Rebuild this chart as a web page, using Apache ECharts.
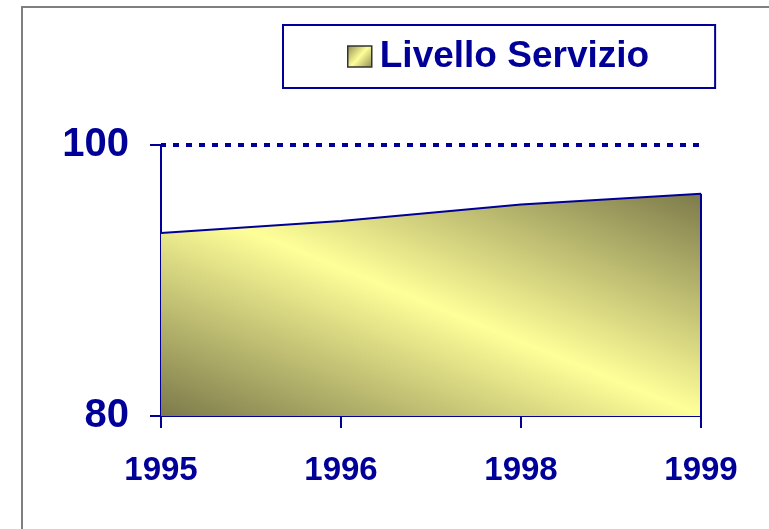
<!DOCTYPE html>
<html>
<head>
<meta charset="utf-8">
<script src="https://cdn.jsdelivr.net/npm/echarts@6/dist/echarts.min.js"></script>
<style>
  html, body { margin: 0; padding: 0; background: #fff; }
  #chart { width: 769px; height: 529px; }
</style>
</head>
<body>
<div id="chart"></div>
<script>
// data
var years = ['1995', '1996', '1998', '1999'];
var livello = [93.5, 94.4, 95.6, 96.4];
var yTicks = [80, 100];

var blue = '#000099';
var font = 'Liberation Sans, Arial, sans-serif';

// light band runs along the diagonal top-left -> bottom-right of the area
var areaFill = new echarts.graphic.LinearGradient(0.356, 1.355, 0.644, -0.355, [
  { offset: 0, color: '#7c7a4a' },
  { offset: 0.5, color: '#ffff99' },
  { offset: 1, color: '#7c7a4a' }
]);
var iconFill = new echarts.graphic.LinearGradient(0, 0, 1, 1, [
  { offset: 0, color: '#8a8850' },
  { offset: 0.5, color: '#ffff99' },
  { offset: 1, color: '#8a8850' }
]);

var chart = echarts.init(document.getElementById('chart'));
chart.setOption({
  animation: false,
  backgroundColor: '#fff',
  graphic: [{
    type: 'rect',
    shape: { x: 22, y: 7, width: 900, height: 700 },
    style: { fill: 'none', stroke: '#7f7f7f', lineWidth: 2 },
    silent: true
  }],
  legend: {
    left: 283,
    top: 25,
    padding: [13, 66, 13, 64],
    borderColor: blue,
    borderWidth: 2,
    itemWidth: 24,
    itemHeight: 21,
    icon: 'rect',
    textStyle: { color: blue, fontSize: 37, fontWeight: 'bold', fontFamily: font, padding: [0, 0, 0, 3] },
    data: [{
      name: 'Livello Servizio',
      itemStyle: { color: iconFill, borderColor: '#333', borderWidth: 1.5 }
    }]
  },
  grid: { left: 161, right: 68, top: 145, bottom: 113 },
  xAxis: {
    type: 'category',
    data: years,
    boundaryGap: false,
    axisLine: { show: true, lineStyle: { color: blue, width: 2 } },
    axisTick: { show: true, length: 12, lineStyle: { color: blue, width: 2 } },
    axisLabel: { color: blue, fontSize: 33, fontWeight: 'bold', fontFamily: font, margin: 38 },
    splitLine: { show: false }
  },
  yAxis: {
    type: 'value',
    min: yTicks[0],
    max: yTicks[1],
    interval: yTicks[1] - yTicks[0],
    axisLine: { show: true, lineStyle: { color: blue, width: 2 } },
    axisTick: { show: true, length: 11, lineStyle: { color: blue, width: 2 } },
    axisLabel: { color: blue, fontSize: 40, fontWeight: 'bold', fontFamily: font, margin: 32 },
    splitLine: {
      show: true,
      showMinLine: false,
      lineStyle: { color: blue, width: 4, type: [6, 7], dashOffset: 1 }
    }
  },
  series: [{
    name: 'Livello Servizio',
    type: 'line',
    data: livello,
    symbol: 'none',
    lineStyle: { color: blue, width: 2 },
    itemStyle: { color: blue },
    areaStyle: { color: areaFill, opacity: 1, origin: 'start' },
    markLine: {
      silent: true,
      symbol: 'none',
      label: { show: false },
      lineStyle: { color: blue, width: 2, type: 'solid' },
      data: [[
        { coord: [years[years.length - 1], yTicks[0]] },
        { coord: [years[years.length - 1], livello[livello.length - 1]] }
      ]]
    }
  }]
});
</script>
</body>
</html>
